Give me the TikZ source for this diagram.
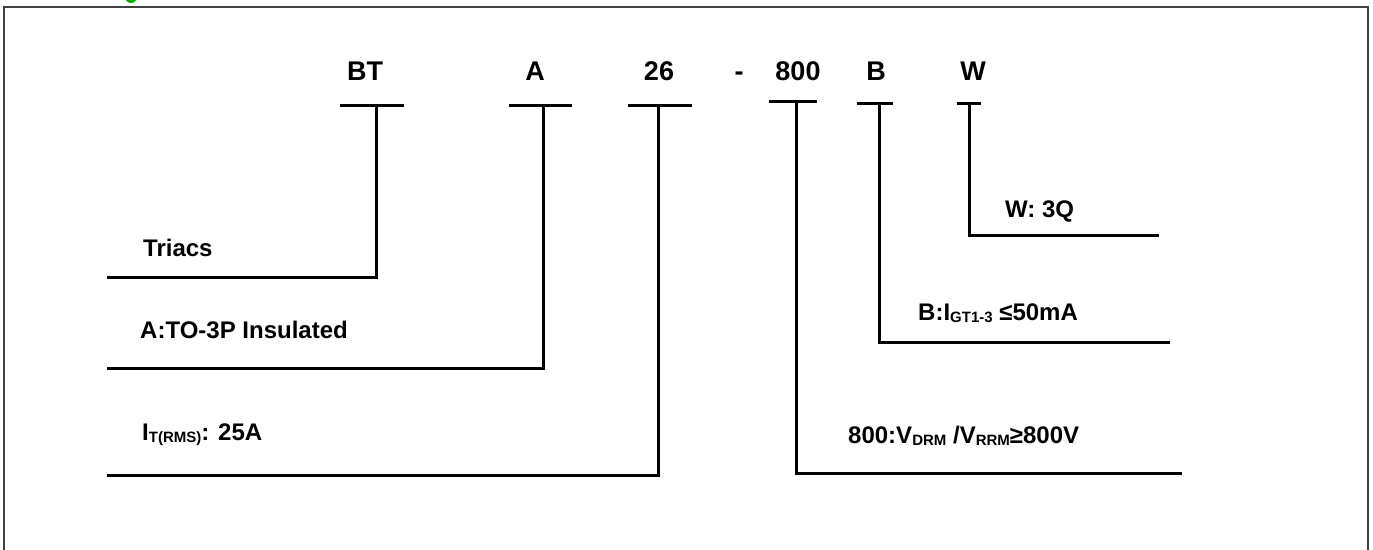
\documentclass[tikz,border=0pt]{standalone}
\usepackage{fontspec}
\setmainfont{Liberation Sans}
\begin{document}
\begin{tikzpicture}[x=1pt,y=-1pt,
  code/.style={inner sep=0pt,anchor=base,font=\fontsize{27}{30}\selectfont\bfseries},
  desc/.style={inner sep=0pt,anchor=base west,font=\fontsize{24}{28}\selectfont\bfseries},
  bar/.style={line width=3pt},
  lead/.style={line width=3pt,line cap=rect},
  frame/.style={draw=black!75,line width=2pt}]
\useasboundingbox (0,0) rectangle (1373,549);
\clip (0,0) rectangle (1373,549);
\fill[green!70!black] (131,-3) ellipse (6 and 6);
\draw[frame] (4,600) -- (4,7) -- (1368,7) -- (1368,600);
% codes
\node[code] (cBT) at (365,80) {BT};
\node[code] (cA) at (535,80) {A};
\node[code] (c26) at (659,80) {26};
\node[code] (cdash) at (739,80) {-};
\node[code] (c800) at (798,80) {800};
\node[code] (cB) at (876,80) {B};
\node[code] (cW) at (973,80) {W};
% tick bars
\coordinate (tBT) at (376,105);
\coordinate (tA) at (543,105);
\coordinate (t26) at (658,105);
\coordinate (t800) at (796,101);
\coordinate (tB) at (879,103);
\coordinate (tW) at (969,103);
\draw[bar] (340,105) -- (404,105);
\draw[bar] (509,105) -- (572,105);
\draw[bar] (628,105) -- (692,105);
\draw[bar] (769,101) -- (817,101);
\draw[bar] (857,103) -- (893,103);
\draw[bar] (957,103) -- (981,103);
% descriptions
\node[desc] (dT) at (143,256) {Triacs};
\node[desc] (dA) at (140,338) {A:TO-3P Insulated};
\node[desc] (dI) at (142,440) {I\raisebox{-2pt}{\fontsize{15}{15}\selectfont T(RMS)}: 25A};
\node[desc] (dW) at (1005,217) {W: 3Q};
\node[desc] (dB) at (918,320) {B:I\raisebox{-2pt}{\fontsize{15}{15}\selectfont GT1-3} ≤50mA};
\node[desc] (d8) at (848,443) {800:V\raisebox{-2pt}{\fontsize{15}{15}\selectfont DRM} /V\raisebox{-2pt}{\fontsize{15}{15}\selectfont RRM}≥800V};
% lead ends
\coordinate (eT) at (108,277);
\coordinate (eA) at (108,368);
\coordinate (eI) at (108,475);
\coordinate (eW) at (1157,235);
\coordinate (eB) at (1168,342);
\coordinate (e8) at (1180,473);
\draw[lead] (tBT) |- (eT);
\draw[lead] (tA) |- (eA);
\draw[lead] (t26) |- (eI);
\draw[lead] (tW) |- (eW);
\draw[lead] (tB) |- (eB);
\draw[lead] (t800) |- (e8);
\end{tikzpicture}
\end{document}
